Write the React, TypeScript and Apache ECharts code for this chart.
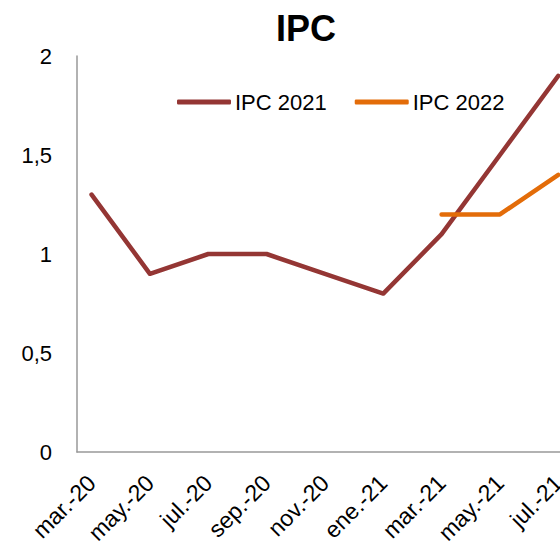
import React, { useEffect, useRef } from "react";
import * as echarts from "echarts";

const categories = [
  "mar.-20", "abr.-20", "may.-20", "jun.-20", "jul.-20", "ago.-20",
  "sep.-20", "oct.-20", "nov.-20", "dic.-20", "ene.-21", "feb.-21",
  "mar.-21", "abr.-21", "may.-21", "jun.-21", "jul.-21", "ago.-21",
];
const ipc2021 = [1.3, null, 0.9, null, 1.0, null, 1.0, null, 0.9, null, 0.8, null, 1.1, null, 1.5, null, 1.9, null];
const ipc2022 = [null, null, null, null, null, null, null, null, null, null, null, null, 1.2, null, 1.2, null, 1.4, null];
const yTicks = [0, 0.5, 1, 1.5, 2];

const FONT = "'Liberation Sans', Arial, sans-serif";

export default function App() {
  const ref = useRef<HTMLDivElement>(null);
  useEffect(() => {
    const chart = echarts.init(ref.current!, null, { renderer: "svg" });
    chart.setOption({
      animation: false,
      textStyle: { fontFamily: FONT },
      title: {
        text: "IPC",
        left: 271,
        top: 5,
        textStyle: { fontFamily: FONT, fontWeight: "bold", fontSize: 36, color: "#000" },
      },
      legend: {
        left: 177,
        top: 91,
        padding: 0,
        icon: "roundRect",
        itemWidth: 54,
        itemHeight: 5,
        itemGap: 28,
        textStyle: { fontFamily: FONT, fontSize: 22, color: "#000", padding: [0, 0, 0, -1] },
        data: ["IPC 2021", "IPC 2022"],
      },
      grid: { left: 77, width: 525, top: 56, bottom: 95, containLabel: false, outerBoundsMode: "none" },
      xAxis: {
        type: "category",
        data: categories,
        boundaryGap: true,
        axisLine: { lineStyle: { color: "#999999", width: 1.5 } },
        axisTick: { show: false },
        axisLabel: {
          interval: 1,
          rotate: 45,
          margin: 27,
          fontSize: 23,
          fontFamily: FONT,
          color: "#000",
        },
      },
      yAxis: {
        type: "value",
        min: yTicks[0],
        max: yTicks[yTicks.length - 1],
        interval: 0.5,
        splitLine: { show: false },
        axisTick: { show: false },
        axisLine: { show: true, lineStyle: { color: "#999999", width: 1.5 } },
        axisLabel: {
          margin: 25,
          fontSize: 22,
          fontFamily: FONT,
          color: "#000",
          formatter: (v: number) => String(v).replace(".", ","),
        },
      },
      series: [
        {
          name: "IPC 2021",
          type: "line",
          data: ipc2021,
          connectNulls: true,
          symbol: "none",
          itemStyle: { color: "#943634" },
          lineStyle: { color: "#943634", width: 4.5, cap: "round", join: "round" },
        },
        {
          name: "IPC 2022",
          type: "line",
          data: ipc2022,
          connectNulls: true,
          symbol: "none",
          itemStyle: { color: "#E36C09" },
          lineStyle: { color: "#E36C09", width: 4.5, cap: "round", join: "round" },
        },
      ],
    });
    return () => chart.dispose();
  }, []);
  return <div ref={ref} style={{ width: 560, height: 547, position: "absolute", left: 0, top: 0 }} />;
}
